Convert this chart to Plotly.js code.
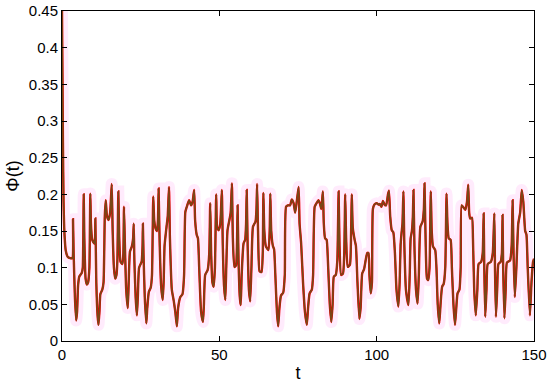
<!DOCTYPE html>
<html>
<head>
<meta charset="utf-8">
<script src="https://cdn.plot.ly/plotly-3.0.1.min.js"></script>
<style>
  html, body { margin: 0; padding: 0; background: #fff; }
  #chart { width: 550px; height: 384px; }
</style>
</head>
<body>
<div id="chart"></div>
<script>
// values, t vs Phi(t)
var t = [
  0, 0.15, 0.3, 0.5, 0.8, 1.2, 1.8, 2.6, 3.3, 3.5, 3.7, 4.1, 4.5, 4.8, 5.1, 5.5, 6.3, 6.6, 6.9, 7.1,
  7.5, 7.9, 8.3, 8.7, 9.0, 9.2, 9.6, 10.2, 10.5, 10.6, 10.9, 11.3, 11.6, 11.9, 12.2, 12.8, 13.2, 13.6, 13.9, 14.3,
  14.8, 15.3, 15.8, 16.1, 16.5, 16.9, 17.3, 17.6, 17.9, 18.2, 18.6, 19.2, 19.5, 19.7, 20.0, 20.4, 20.9, 21.2, 21.6, 22.2,
  22.6, 22.8, 23.0, 23.4, 23.8, 24.1, 24.5, 25.3, 25.6, 25.7, 25.9, 26.3, 26.8, 27.1, 27.6, 28.2, 28.6, 29.0, 29.3, 29.7,
  30.2, 30.5, 30.7, 31.0, 31.5, 32.0, 32.3, 32.6, 33.2, 33.6, 34.0, 34.3, 34.9, 35.5, 36.0, 36.5, 36.9, 37.6, 38.3, 38.8,
  39.2, 39.8, 40.4, 41.0, 41.5, 42.0, 42.3, 42.8, 43.2, 43.6, 44.2, 44.8, 45.1, 45.5, 46.3, 46.8, 47.1, 47.4, 47.8, 48.2,
  48.6, 49.0, 49.3, 49.8, 50.3, 50.8, 51.1, 51.5, 51.9, 52.2, 52.6, 53.2, 53.6, 54.0, 54.3, 54.8, 55.3, 55.6, 55.8, 56.1,
  56.5, 56.8, 57.1, 57.7, 58.2, 58.5, 58.7, 59.0, 59.4, 59.8, 60.2, 60.7, 61.5, 61.8, 62.0, 62.3, 62.8, 63.4, 63.8, 64.0,
  64.3, 64.8, 65.6, 66.0, 66.2, 66.5, 67.0, 67.4, 67.8, 68.3, 68.7, 69.1, 69.6, 70.3, 70.8, 71.2, 71.8, 72.5, 73.0, 73.6,
  74.1, 74.6, 75.2, 75.5, 76.0, 76.6, 77.2, 77.8, 78.2, 78.7, 79.4, 79.8, 80.3, 80.9, 81.5, 82.0, 82.4, 82.9, 83.2, 83.6,
  84.1, 84.5, 85.1, 85.6, 86.0, 86.4, 87.0, 87.5, 87.9, 88.2, 88.7, 89.3, 89.7, 90.0, 90.3, 90.8, 91.5, 91.8, 92.1, 92.4,
  93.0, 93.4, 93.9, 94.5, 94.9, 95.4, 96.0, 96.5, 97.0, 97.4, 97.7, 98.1, 98.5, 98.8, 99.3, 100.0, 100.6, 101.0, 101.5, 102.0,
  102.5, 103.0, 103.6, 103.9, 104.3, 104.8, 105.3, 105.8, 106.3, 106.9, 107.3, 107.6, 107.9, 108.2, 108.5, 108.8, 109.3, 110.1, 110.5, 110.8,
  111.2, 111.5, 111.7, 112.0, 112.5, 113.0, 113.4, 113.9, 114.6, 115.0, 115.2, 115.5, 116.0, 116.4, 116.8, 117.2, 117.5, 117.9, 118.6, 119.0,
  119.4, 119.9, 120.3, 120.8, 121.3, 121.8, 122.2, 122.5, 122.9, 123.5, 123.9, 124.4, 124.9, 125.3, 125.7, 126.3, 126.7, 127.0, 127.6, 128.2,
  128.7, 129.1, 129.4, 129.7, 130.3, 130.6, 131.0, 131.5, 132.0, 132.4, 133.2, 133.7, 134.0, 134.2, 134.5, 134.9, 135.3, 136.3, 136.9, 137.4,
  137.6, 137.9, 138.3, 138.7, 139.4, 139.8, 140.0, 140.2, 140.6, 141.0, 141.4, 142.4, 142.9, 143.2, 143.5, 143.9, 144.4, 145.0, 145.6, 146.1,
  146.6, 147.2, 147.6, 148.0, 148.7, 149.2, 149.7, 150
];
var phi = [
  0.45, 0.36, 0.27, 0.19, 0.145, 0.123, 0.115, 0.113, 0.113, 0.166, 0.12, 0.06, 0.028, 0.04, 0.075, 0.088, 0.093, 0.1, 0.2, 0.14,
  0.085, 0.077, 0.08, 0.1, 0.201, 0.16, 0.138, 0.133, 0.14, 0.167, 0.08, 0.035, 0.022, 0.04, 0.064, 0.07, 0.08, 0.17, 0.192, 0.17,
  0.165, 0.175, 0.214, 0.15, 0.1, 0.085, 0.09, 0.11, 0.204, 0.14, 0.108, 0.105, 0.12, 0.183, 0.13, 0.07, 0.045, 0.08, 0.122, 0.129,
  0.14, 0.16, 0.11, 0.06, 0.035, 0.06, 0.1, 0.108, 0.13, 0.16, 0.12, 0.06, 0.024, 0.045, 0.067, 0.073, 0.09, 0.197, 0.165, 0.154,
  0.15, 0.165, 0.208, 0.14, 0.075, 0.056, 0.08, 0.13, 0.155, 0.17, 0.21, 0.14, 0.07, 0.055, 0.04, 0.02, 0.045, 0.06, 0.064, 0.09,
  0.176, 0.185, 0.192, 0.185, 0.19, 0.206, 0.165, 0.145, 0.14, 0.1, 0.04, 0.026, 0.05, 0.09, 0.097, 0.12, 0.188, 0.12, 0.08, 0.074,
  0.1, 0.2, 0.155, 0.151, 0.16, 0.206, 0.13, 0.075, 0.056, 0.1, 0.151, 0.165, 0.175, 0.215, 0.14, 0.101, 0.103, 0.13, 0.185, 0.11,
  0.06, 0.049, 0.09, 0.133, 0.138, 0.16, 0.206, 0.13, 0.07, 0.054, 0.1, 0.156, 0.163, 0.18, 0.214, 0.15, 0.095, 0.094, 0.12, 0.202,
  0.15, 0.129, 0.124, 0.15, 0.201, 0.15, 0.13, 0.125, 0.09, 0.04, 0.02, 0.045, 0.062, 0.066, 0.09, 0.183, 0.185, 0.185, 0.193, 0.188,
  0.175, 0.19, 0.21, 0.16, 0.133, 0.08, 0.04, 0.022, 0.045, 0.065, 0.07, 0.09, 0.183, 0.188, 0.192, 0.187, 0.18, 0.204, 0.16, 0.14,
  0.138, 0.11, 0.05, 0.026, 0.05, 0.088, 0.09, 0.11, 0.204, 0.13, 0.09, 0.092, 0.12, 0.2, 0.14, 0.101, 0.104, 0.13, 0.2, 0.155,
  0.138, 0.13, 0.08, 0.03, 0.045, 0.092, 0.098, 0.11, 0.12, 0.12, 0.09, 0.065, 0.08, 0.18, 0.186, 0.188, 0.186, 0.187, 0.183, 0.191,
  0.186, 0.185, 0.2, 0.205, 0.17, 0.151, 0.148, 0.12, 0.07, 0.047, 0.08, 0.13, 0.147, 0.16, 0.204, 0.13, 0.07, 0.049, 0.09, 0.14,
  0.15, 0.17, 0.206, 0.13, 0.07, 0.051, 0.09, 0.156, 0.163, 0.18, 0.215, 0.15, 0.085, 0.083, 0.1, 0.204, 0.15, 0.129, 0.124, 0.1,
  0.05, 0.024, 0.05, 0.074, 0.078, 0.1, 0.201, 0.16, 0.14, 0.138, 0.1, 0.05, 0.022, 0.045, 0.065, 0.07, 0.1, 0.185, 0.182, 0.179,
  0.19, 0.213, 0.175, 0.167, 0.168, 0.14, 0.07, 0.035, 0.07, 0.105, 0.108, 0.12, 0.174, 0.1, 0.033, 0.07, 0.105, 0.108, 0.12, 0.174,
  0.1, 0.033, 0.07, 0.105, 0.108, 0.12, 0.172, 0.1, 0.031, 0.07, 0.107, 0.11, 0.13, 0.192, 0.12, 0.06, 0.1, 0.16, 0.175, 0.206,
  0.19, 0.15, 0.145, 0.1, 0.035, 0.08, 0.108, 0.112
];

var xTicks = [0, 50, 100, 150];
var yTicks = [0, 0.05, 0.1, 0.15, 0.2, 0.25, 0.3, 0.35, 0.4, 0.45];
var yTickText = ['0', '0.05', '0.1', '0.15', '0.2', '0.25', '0.3', '0.35', '0.4', '0.45'];

var halo = {
  x: t, y: phi, mode: 'lines', hoverinfo: 'skip',
  line: {color: 'rgba(255,0,220,0.08)', width: 12, shape: 'spline', smoothing: 0.5}
};
var redLine = {
  x: t, y: phi, mode: 'lines',
  line: {color: 'rgb(235,0,0)', width: 2.4, shape: 'spline', smoothing: 0.5}
};
var brownLine = {
  x: t, y: phi, mode: 'lines',
  line: {color: 'rgb(120,70,22)', width: 1.6, shape: 'spline', smoothing: 0.5}
};

var font = {family: 'Liberation Sans, Arial, Helvetica, sans-serif', size: 15, color: '#000'};

var layout = {
  width: 550, height: 384,
  margin: {l: 62, r: 16, t: 11, b: 43},
  paper_bgcolor: '#fff', plot_bgcolor: '#fff',
  showlegend: false,
  font: font,
  xaxis: {
    range: [0, 150], tickvals: xTicks, ticks: 'inside', ticklen: 5, tickcolor: '#000',
    showline: true, linecolor: '#000', linewidth: 1, mirror: 'ticks',
    showgrid: false, zeroline: false, automargin: false,
    title: {text: 't', font: {family: font.family, size: 18, color: '#000'}, standoff: 4}
  },
  yaxis: {
    range: [0, 0.45], tickvals: yTicks, ticktext: yTickText, ticks: 'inside', ticklen: 5, tickcolor: '#000',
    showline: true, linecolor: '#000', linewidth: 1, mirror: 'ticks',
    showgrid: false, zeroline: false, automargin: false,
    title: {text: 'Φ(t)', font: {family: font.family, size: 18, color: '#000'}, standoff: 4}
  }
};

Plotly.newPlot('chart', [halo, redLine, brownLine], layout, {displayModeBar: false, staticPlot: true});
</script>
</body>
</html>
